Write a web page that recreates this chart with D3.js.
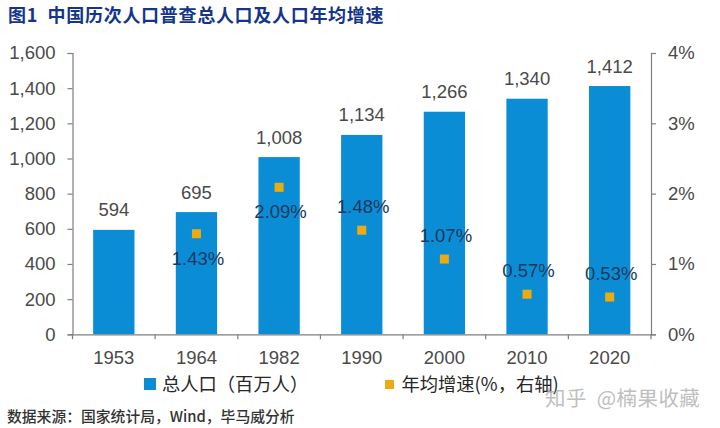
<!DOCTYPE html>
<html>
<head>
<meta charset="utf-8">
<script src="https://cdn.jsdelivr.net/npm/d3@7"></script>
<style>
html, body { margin: 0; padding: 0; background: #fff; }
svg { display: block; }
text { font-family: "Liberation Sans", "Noto Sans CJK SC", sans-serif; fill: #4a4a4a; }
.cjk { font-family: "Noto Sans CJK SC", sans-serif; }
.axis text { font-size: 18.5px; }
.axis path, .axis line { stroke: #7f7f7f; stroke-width: 1.2; }
</style>
</head>
<body>
<svg id="chart" width="720" height="428"></svg>
<script>
var years = ["1953", "1964", "1982", "1990", "2000", "2010", "2020"];
var population = [594, 695, 1008, 1134, 1266, 1340, 1412];
var growth = [null, 1.43, 2.09, 1.48, 1.07, 0.57, 0.53];
var growth_side = [null, "below", "below", "above", "above", "above", "above"];
var left_ticks = [0, 200, 400, 600, 800, 1000, 1200, 1400, 1600];
var right_ticks = [0, 1, 2, 3, 4];

var margin = {left: 72.5, right: 651, top: 53, bottom: 334.3};
var svg = d3.select("#chart");

var x = d3.scaleBand().domain(years).range([margin.left, margin.right])
    .paddingInner(0.5).paddingOuter(0.25);
var y_left = d3.scaleLinear().domain([0, 1600]).range([margin.bottom, margin.top]);
var y_right = d3.scaleLinear().domain([0, 4]).range([margin.bottom, margin.top]);

// bars
svg.selectAll("rect.bar").data(population).enter().append("rect")
    .attr("class", "bar")
    .attr("x", function(d, i){ return x(years[i]); })
    .attr("y", function(d){ return y_left(d); })
    .attr("width", x.bandwidth())
    .attr("height", function(d){ return margin.bottom - y_left(d); })
    .attr("fill", "#0b8dd6");

// axes
svg.append("g").attr("class", "axis")
    .attr("transform", "translate(" + margin.left + ",0)")
    .call(d3.axisLeft(y_left).tickValues(left_ticks).tickSize(5).tickSizeOuter(5).tickPadding(12).tickFormat(d3.format(",")));

svg.append("g").attr("class", "axis")
    .attr("transform", "translate(" + margin.right + ",0)")
    .call(d3.axisRight(y_right).tickValues(right_ticks).tickSize(5).tickSizeOuter(5).tickPadding(12).tickFormat(function(d){ return d + "%"; }));

var x_axis = svg.append("g").attr("class", "axis")
    .attr("transform", "translate(0," + margin.bottom + ")")
    .call(d3.axisBottom(x).tickSize(0).tickSizeOuter(0).tickPadding(17));

// x ticks sit between the bars
x_axis.selectAll("line.edge").data(d3.range(years.length + 1)).enter().append("line")
    .attr("class", "edge")
    .attr("x1", function(d){ return margin.left + d*x.step(); })
    .attr("x2", function(d){ return margin.left + d*x.step(); })
    .attr("y1", 0)
    .attr("y2", 5);

// value labels
svg.selectAll("text.pop").data(population).enter().append("text")
    .attr("class", "pop")
    .attr("x", function(d, i){ return x(years[i]) + x.bandwidth()/2; })
    .attr("y", function(d){ return y_left(d) - 13.5; })
    .attr("text-anchor", "middle")
    .attr("font-size", 18.5)
    .text(d3.format(","));

// growth markers
var growth_idx = d3.range(years.length).filter(function(i){ return growth[i] != null; });

svg.selectAll("rect.rate").data(growth_idx).enter().append("rect")
    .attr("class", "rate")
    .attr("x", function(i){ return x(years[i]) + x.bandwidth()/2 - 4.5; })
    .attr("y", function(i){ return y_right(growth[i]) - 4.5; })
    .attr("width", 9)
    .attr("height", 9)
    .attr("fill", "#edab12");

svg.selectAll("text.rate").data(growth_idx).enter().append("text")
    .attr("class", "rate")
    .attr("x", function(i){ return x(years[i]) + x.bandwidth()/2 + 1.5; })
    .attr("y", function(i){ return y_right(growth[i]) + (growth_side[i] == "below" ? 31 : -17.5); })
    .attr("text-anchor", "middle")
    .attr("font-size", 18.5)
    .style("fill", "#17395c")
    .text(function(i){ return growth[i].toFixed(2) + "%"; });

// title
svg.append("text").attr("class", "cjk")
    .attr("x", 8).attr("y", 22)
    .attr("font-size", 18).attr("font-weight", 700)
    .style("fill", "#15358a")
    .style("letter-spacing", "0.7px")
    .attr("xml:space", "preserve")
    .text("图1  中国历次人口普查总人口及人口年均增速");

// legend
svg.append("rect").attr("x", 144).attr("y", 378).attr("width", 12).attr("height", 12).attr("fill", "#0b8dd6");
svg.append("text").attr("class", "cjk").attr("x", 162).attr("y", 391)
    .attr("font-size", 18.3).style("fill", "#262626").text("总人口（百万人）");
svg.append("rect").attr("x", 385).attr("y", 380).attr("width", 9).attr("height", 9).attr("fill", "#edab12");
svg.append("text").attr("class", "cjk").attr("x", 401.5).attr("y", 391)
    .attr("font-size", 18.3).style("fill", "#262626").text("年均增速(%，右轴)");

// source
svg.append("text").attr("class", "cjk").attr("x", 7).attr("y", 422)
    .attr("font-size", 14.8).attr("font-weight", 500)
    .style("fill", "#333").text("数据来源：国家统计局，Wind，毕马威分析");

// site watermark
svg.append("text").attr("class", "cjk").attr("x", 545).attr("y", 406)
    .attr("font-size", 20.5)
    .style("fill", "#b4b4b4").style("opacity", 0.85)
    .style("letter-spacing", "0.4px")
    .attr("xml:space", "preserve")
    .text("知乎  @楠果收藏");
</script>
</body>
</html>
